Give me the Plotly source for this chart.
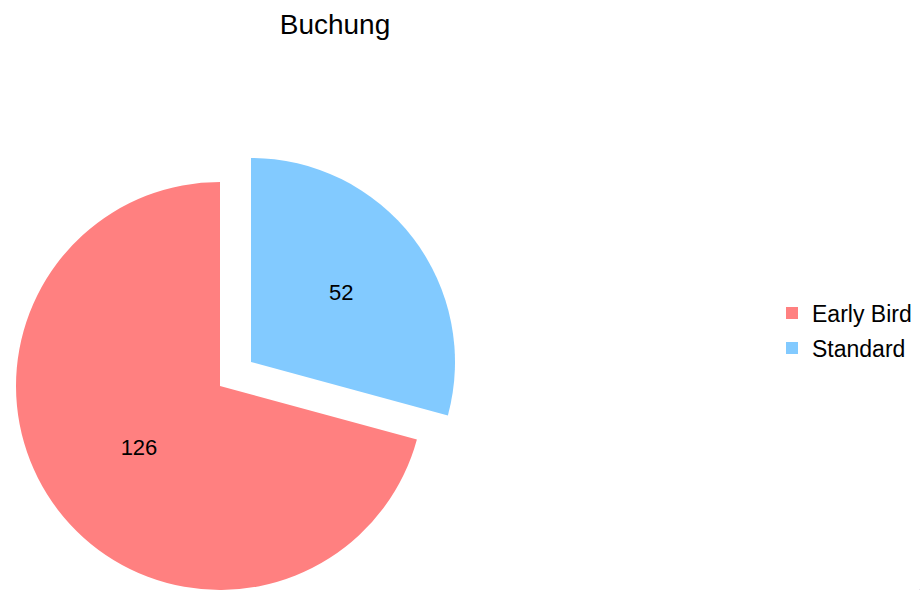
import plotly.graph_objects as go

W, H = 920, 590

title_text = "Buchung"
labels = ["Standard", "Early Bird"]
values = [52, 126]
colors = ["#82CAFF", "#FF8080"]
CLEAR = "rgba(0,0,0,0)"

FONT = "Liberation Sans, Arial, sans-serif"

def dom(cx, cy, r):
    return dict(x=[(cx - r) / W, (cx + r) / W],
                y=[1 - (cy + r) / H, 1 - (cy - r) / H])

R = 204
# main (unpulled) pie centre, and pulled-out "Standard" slice offset
main_c = (220, 386)
pull_off = (31, -24)

common = dict(labels=labels, values=values, sort=False, direction="clockwise",
              rotation=0, textposition="inside", insidetextorientation="horizontal",
              textfont=dict(family=FONT, size=22, color="black"),
              marker=dict(line=dict(width=0)), hoverinfo="label+value",
              showlegend=False)

fig = go.Figure()

# legend entries (practically invisible, sub-pixel pies in a corner)
legend_order = ["Early Bird", "Standard"]
for k, lab in enumerate(legend_order):
    i = labels.index(lab)
    fig.add_trace(go.Pie(labels=[lab], values=[values[i]], marker_colors=[colors[i]],
                         textinfo="none", hoverinfo="skip", sort=False,
                         domain=dict(x=[0.9995, 1.0], y=[0.0, 0.0008]),
                         showlegend=True,
                         legend="legend" if k == 0 else "legend2"))

# Early Bird slice (Standard slot transparent)
fig.add_trace(go.Pie(**common,
                     marker_colors=[CLEAR, colors[1]],
                     texttemplate=["", "%{value}"],
                     domain=dom(main_c[0], main_c[1], R)))
# Standard slice pulled out
fig.add_trace(go.Pie(**common,
                     marker_colors=[colors[0], CLEAR],
                     texttemplate=["%{value}", ""],
                     domain=dom(main_c[0] + pull_off[0], main_c[1] + pull_off[1], R)))

leg_common = dict(font=dict(family=FONT, size=23, color="black"),
                  bgcolor="rgba(0,0,0,0)", borderwidth=0,
                  xanchor="left", yanchor="middle", x=772 / W)

fig.update_layout(
    width=W, height=H,
    margin=dict(l=0, r=0, t=0, b=0),
    paper_bgcolor="white", plot_bgcolor="white",
    title=dict(text=title_text, x=335 / W, xanchor="center",
               y=1 - 24 / H, yanchor="middle", yref="container",
               font=dict(family=FONT, size=28, color="black")),
    legend=dict(**leg_common, y=1 - 313 / H),
    legend2=dict(**leg_common, y=1 - 348 / H),
)

fig.write_html("out.html")
